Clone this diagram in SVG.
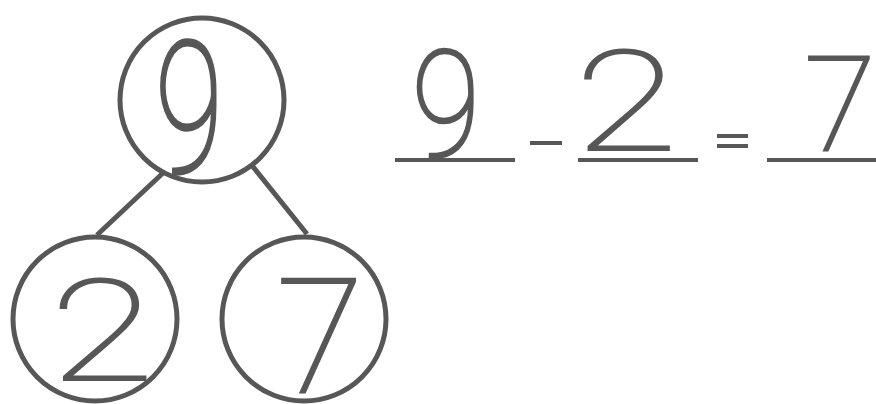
<svg xmlns="http://www.w3.org/2000/svg" width="876" height="404" viewBox="0 0 876 404">
<style>
.ring{fill:#fff;stroke:#575757;stroke-width:5}
.edge{stroke:#575757;stroke-width:5;stroke-linecap:butt}
.rule{stroke:#575757;stroke-width:4}
.dig{font-family:Roboto,Lato,"Liberation Sans",sans-serif;font-weight:100;fill:#575757;stroke:#575757;stroke-width:2.2;text-anchor:middle}
</style>
<rect width="876" height="404" fill="#fff"/>
<g id="connectors">
<line class="edge" x1="163" y1="173" x2="97" y2="235"/>
<line class="edge" x1="250" y1="163" x2="307" y2="234"/>
</g>
<g id="node-9">
<circle class="ring" cx="202" cy="100" r="82"/>
<text class="dig" transform="translate(189,0) scale(0.68,1)" x="0" y="172" font-size="183" style="stroke-width:3.4">9</text>
</g>
<g id="node-2">
<circle class="ring" cx="95" cy="319" r="82"/>
<text class="dig" transform="translate(102,0) scale(1.35,1)" x="0" y="380" font-size="141" style="stroke-width:1.8">2</text>
</g>
<g id="node-7">
<circle class="ring" cx="304" cy="319" r="82"/>
<text class="dig" x="320" y="392" font-size="160">7</text>
</g>
<g id="equation">
<text class="dig" transform="translate(446,0) scale(0.85,1)" x="0" y="157" font-size="148" style="stroke-width:2.6">9</text>
<line class="rule" x1="395" y1="160" x2="515" y2="160"/>
<line class="rule" x1="530" y1="143" x2="562" y2="143"/>
<text class="dig" transform="translate(626,0) scale(1.35,1)" x="0" y="150" font-size="139" style="stroke-width:1.8">2</text>
<line class="rule" x1="578" y1="160" x2="698" y2="160"/>
<line class="rule" x1="717" y1="136" x2="748" y2="136"/>
<line class="rule" x1="717" y1="146" x2="748" y2="146"/>
<text class="dig" x="840" y="150" font-size="131">7</text>
<line class="rule" x1="767" y1="160" x2="876" y2="160"/>
</g>
</svg>
